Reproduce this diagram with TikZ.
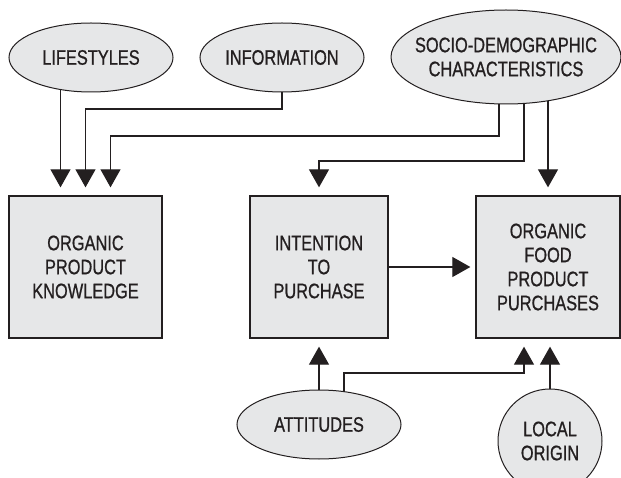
\documentclass[tikz,border=0pt]{standalone}
\usepackage{fontspec}
\setmainfont{Liberation Sans}[FakeStretch=0.78, FakeBold=0.8]
\usetikzlibrary{shapes.geometric,arrows.meta,backgrounds}
\definecolor{boxgray}{HTML}{E6E7E8}
\definecolor{inkgray}{HTML}{231F20}
\begin{document}
\begin{tikzpicture}[x=1pt, y=-1pt,
    factor/.style={ellipse, draw=inkgray, fill=boxgray, line width=1pt, inner sep=0pt,
        minimum width=164pt, minimum height=69pt, align=center, text=inkgray,
        font=\fontsize{21}{24}\selectfont},
    stage/.style={rectangle, draw=inkgray, fill=boxgray, line width=1.3pt, align=center,
        text=inkgray, minimum height=142pt, font=\fontsize{21}{24}\selectfont},
    flow/.style={-{Triangle[width=20pt,length=18pt]}, line width=1.1pt, draw=inkgray,
        shorten >=8pt}]
        \useasboundingbox (0,0) rectangle (621,478);
        \clip (0,0) rectangle (621,478);

        % Nodes
        \node (life) [factor] at (91, 57.5) {LIFESTYLES};
        \node (info) [factor] at (282, 57.5) {INFORMATION};
        \node (socio) [factor, minimum width=230pt, minimum height=94pt, inner xsep=-10pt] at (506, 57) {SOCIO-DEMOGRAPHIC\\CHARACTERISTICS};
        \node (know) [stage, minimum width=153pt] at (85.5, 267) {ORGANIC\\PRODUCT\\KNOWLEDGE};
        \node (int) [stage, minimum width=138pt] at (319, 267) {INTENTION\\TO\\PURCHASE};
        \node (pur) [stage, minimum width=144pt] at (548, 267) {ORGANIC\\FOOD\\PRODUCT\\PURCHASES};
        \node (att) [factor] at (319, 424.5) {ATTITUDES};
        \node (loc) [factor, circle, minimum size=104pt] at (550, 441) {LOCAL\\ORIGIN};

        % Edges
        \begin{scope}[on background layer]
        \draw[flow] ([xshift=-25pt]know.north |- life.center) -- ([xshift=-25pt]know.north);
        \draw[flow] (info.center) -- ++(0,51.5) -| (know.north);
        \draw[flow] ([xshift=-7pt]socio.center) -- ++(0,79) -| ([xshift=25pt]know.north);
        \draw[flow] ([xshift=18pt]socio.center) -- ++(0,104) -| (int.north);
        \draw[flow] (pur.north |- socio.center) -- (pur.north);
        \draw[flow, shorten >=5pt] (int.east) -- (pur.west);
        \draw[flow] (att.center) -- (int.south);
        \draw[flow] ([xshift=25pt]att.center) -- ++(0,-51.5) -| ([xshift=-24pt]pur.south);
        \draw[flow] (loc.center) -- (loc.center |- pur.south);
        \end{scope}

    \end{tikzpicture}
\end{document}
